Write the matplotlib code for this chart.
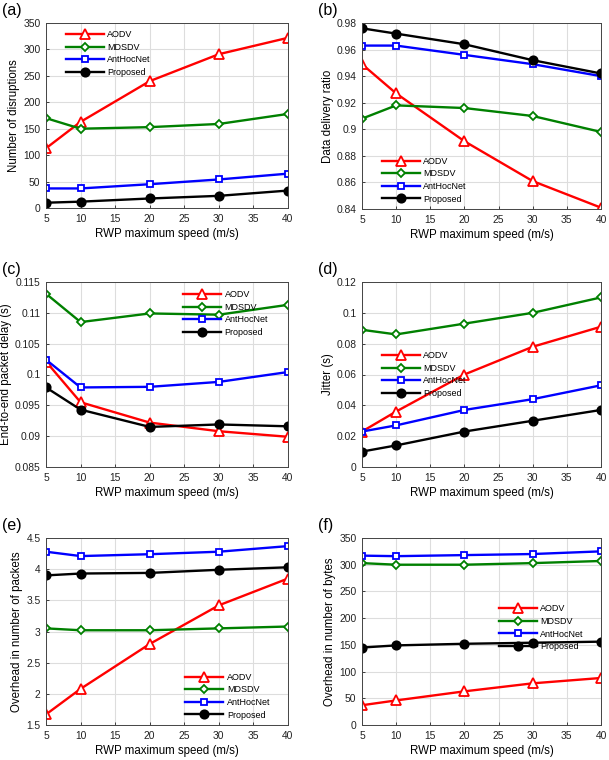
import matplotlib
matplotlib.use("Agg")
import matplotlib.pyplot as plt

plt.rcParams['font.family'] = ['Liberation Sans', 'DejaVu Sans']

speeds = [5, 10, 20, 30, 40]
names = ["AODV", "MDSDV", "AntHocNet", "Proposed"]

# (a) number of disruptions
disr_aodv = [113, 163, 240, 291, 322]
disr_mdsdv = [170, 150, 153, 159, 178]
disr_ant = [37, 37, 45, 54, 65]
disr_prop = [10, 12, 18, 23, 33]

# (b) data delivery ratio
ddr_aodv = [0.949, 0.927, 0.891, 0.861, 0.841]
ddr_mdsdv = [0.908, 0.918, 0.916, 0.910, 0.898]
ddr_ant = [0.963, 0.963, 0.956, 0.949, 0.940]
ddr_prop = [0.976, 0.972, 0.964, 0.952, 0.942]

# (c) end-to-end delay
delay_aodv = [0.1021, 0.0955, 0.0922, 0.0908, 0.0899]
delay_mdsdv = [0.1131, 0.1085, 0.1099, 0.1097, 0.1113]
delay_ant = [0.1024, 0.0979, 0.0980, 0.0988, 0.1004]
delay_prop = [0.0979, 0.0943, 0.0915, 0.0919, 0.0916]

# (d) jitter
jit_aodv = [0.023, 0.036, 0.060, 0.078, 0.091]
jit_mdsdv = [0.089, 0.086, 0.093, 0.100, 0.110]
jit_ant = [0.023, 0.027, 0.037, 0.044, 0.053]
jit_prop = [0.010, 0.014, 0.023, 0.030, 0.037]

# (e) overhead in packets
pkt_aodv = [1.67, 2.08, 2.80, 3.42, 3.85]
pkt_mdsdv = [3.05, 3.02, 3.02, 3.05, 3.08]
pkt_ant = [4.28, 4.21, 4.24, 4.28, 4.37]
pkt_prop = [3.90, 3.93, 3.94, 3.99, 4.03]

# (f) overhead in bytes
byt_aodv = [37, 46, 63, 78, 88]
byt_mdsdv = [303, 300, 300, 303, 307]
byt_ant = [317, 316, 318, 320, 325]
byt_prop = [145, 149, 152, 154, 156]

W, H = 609, 760
fig = plt.figure(figsize=(W / 100, H / 100), dpi=100)


def px_axes(left, top, right, bottom):
    return fig.add_axes([left / W, 1 - bottom / H, (right - left) / W, (bottom - top) / H])


styles = [
    dict(color="#ff0000", marker="^", mfc="white", mec="#ff0000", ms=6.5),
    dict(color="#008000", marker="D", mfc="white", mec="#008000", ms=4.5),
    dict(color="#0000ff", marker="s", mfc="white", mec="#0000ff", ms=4.5),
    dict(color="black", marker="o", mfc="black", mec="black", ms=6),
]

panels = [
    ("(a)", (46, 23, 288, 208), [disr_aodv, disr_mdsdv, disr_ant, disr_prop],
     "Number of disruptions", (0, 350), [0, 50, 100, 150, 200, 250, 300, 350],
     ["0", "50", "100", "150", "200", "250", "300", "350"],
     dict(loc="upper left", bbox_to_anchor=(0.06, 0.99))),
    ("(b)", (362, 23, 601, 209), [ddr_aodv, ddr_mdsdv, ddr_ant, ddr_prop],
     "Data delivery ratio", (0.84, 0.98), [0.84, 0.86, 0.88, 0.9, 0.92, 0.94, 0.96, 0.98],
     ["0.84", "0.86", "0.88", "0.9", "0.92", "0.94", "0.96", "0.98"],
     dict(loc="lower left", bbox_to_anchor=(0.06, 0.0))),
    ("(c)", (46, 282, 288, 467), [delay_aodv, delay_mdsdv, delay_ant, delay_prop],
     "End-to-end packet delay (s)", (0.085, 0.115),
     [0.085, 0.09, 0.095, 0.1, 0.105, 0.11, 0.115],
     ["0.085", "0.09", "0.095", "0.1", "0.105", "0.11", "0.115"],
     dict(loc="upper right", bbox_to_anchor=(0.94, 0.985))),
    ("(d)", (362, 282, 601, 467), [jit_aodv, jit_mdsdv, jit_ant, jit_prop],
     "Jitter (s)", (0, 0.12), [0, 0.02, 0.04, 0.06, 0.08, 0.1, 0.12],
     ["0", "0.02", "0.04", "0.06", "0.08", "0.1", "0.12"],
     dict(loc="center left", bbox_to_anchor=(0.06, 0.5))),
    ("(e)", (46, 538, 288, 725), [pkt_aodv, pkt_mdsdv, pkt_ant, pkt_prop],
     "Overhead in number of packets", (1.5, 4.5), [1.5, 2, 2.5, 3, 3.5, 4, 4.5],
     ["1.5", "2", "2.5", "3", "3.5", "4", "4.5"],
     dict(loc="lower right", bbox_to_anchor=(0.95, 0.0))),
    ("(f)", (362, 538, 601, 725), [byt_aodv, byt_mdsdv, byt_ant, byt_prop],
     "Overhead in number of bytes", (0, 350), [0, 50, 100, 150, 200, 250, 300, 350],
     ["0", "50", "100", "150", "200", "250", "300", "350"],
     dict(loc="center left", bbox_to_anchor=(0.55, 0.52))),
]

for label, box, series, ylabel, ylim, yticks, yticklabels, legkw in panels:
    ax = px_axes(*box)
    for name, vals, st in zip(names, series, styles):
        ax.plot(speeds, vals, lw=1.7, mew=1.3, label=name, **st)
    ax.set_xlim(5, 40)
    ax.set_ylim(*ylim)
    ax.set_xticks([5, 10, 15, 20, 25, 30, 35, 40])
    ax.set_yticks(yticks)
    ax.set_yticklabels(yticklabels)
    ax.tick_params(direction="in", length=2.5, labelsize=7.4, width=0.6,
                   colors="#222222", pad=4)
    ax.grid(True, color="#dddddd", lw=0.8)
    ax.set_axisbelow(True)
    for sp in ax.spines.values():
        sp.set_linewidth(0.7)
        sp.set_color("#444444")
    ax.set_xlabel("RWP maximum speed (m/s)", fontsize=8.3, labelpad=3)
    ax.set_ylabel(ylabel, fontsize=8.3, labelpad=2)
    ax.legend(frameon=False, fontsize=6.5, handlelength=4.2, labelspacing=0.4,
              handletextpad=0.4, borderaxespad=0.2, **legkw)
    fx = box[0] / W - 44 / W
    fy = 1 - (box[1] - 5) / H
    fig.text(fx, fy, label, fontsize=11.5, ha="left", va="bottom")

fig.savefig("out.png", dpi=100)
